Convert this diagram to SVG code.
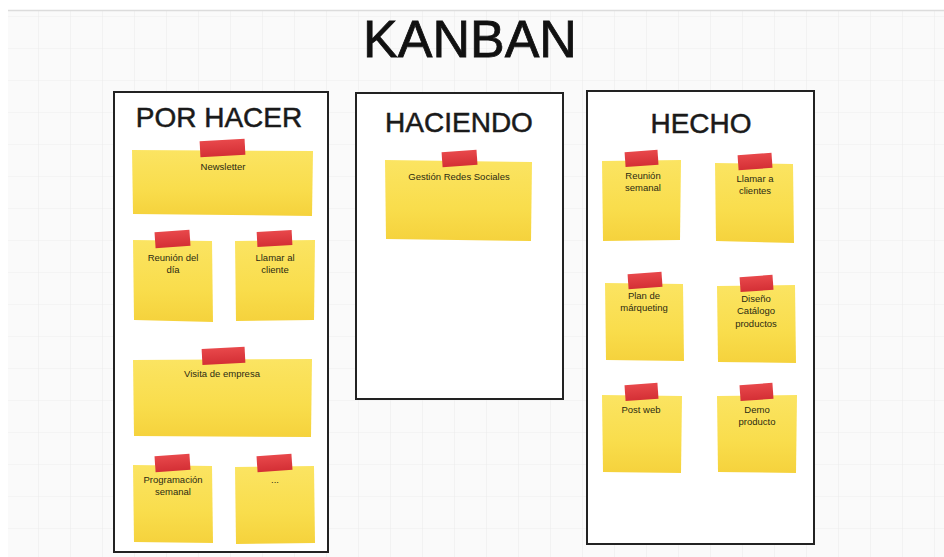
<svg xmlns="http://www.w3.org/2000/svg" width="944" height="557" viewBox="0 0 944 557">
<defs>
<pattern id="grid" x="6" y="16" width="32" height="32" patternUnits="userSpaceOnUse">
<path d="M0 0H32M0 0V32" fill="none" stroke="#ededed" stroke-width="1.2"/>
</pattern>
<linearGradient id="note" x1="0" y1="0" x2="0" y2="1">
<stop offset="0" stop-color="#fbe462"/>
<stop offset="0.6" stop-color="#f9dd4c"/>
<stop offset="1" stop-color="#f5d23c"/>
</linearGradient>
<linearGradient id="tape" x1="0" y1="0" x2="0" y2="1">
<stop offset="0" stop-color="#e8484b"/>
<stop offset="1" stop-color="#d42f35"/>
</linearGradient>
</defs>
<style>
.col{fill:#fff;stroke:#222;stroke-width:2}
.note{fill:url(#note)}
.tape{fill:url(#tape)}
.ct{font-family:"Liberation Sans",Arial,sans-serif;font-size:28px;fill:#1a1a1a;stroke:#1a1a1a;stroke-width:0.5;text-anchor:middle}
.nt{font-family:"Liberation Sans",Arial,sans-serif;font-size:9.5px;fill:#2b2a12;text-anchor:middle}
</style>
<rect width="944" height="557" fill="#fff"/>
<rect x="8" y="10" width="936" height="547" fill="#fafafa"/>
<rect x="8" y="10" width="936" height="547" fill="url(#grid)"/>
<line x1="8" y1="10.5" x2="944" y2="10.5" stroke="#dcdcdc" stroke-width="1.5"/>
<text x="470" y="57" font-family="Liberation Sans,Arial,sans-serif" font-size="52" fill="#111" stroke="#111" stroke-width="0.8" text-anchor="middle">KANBAN</text>

<g id="col-por-hacer">
<rect class="col" x="114" y="92" width="214" height="460"/>
<text class="ct" x="219" y="127">POR HACER</text>
</g>
<g id="col-haciendo">
<rect class="col" x="356" y="93" width="207" height="306"/>
<text class="ct" x="459" y="132">HACIENDO</text>
</g>
<g id="col-hecho">
<rect class="col" x="587" y="91" width="227" height="453"/>
<text class="ct" x="701" y="133">HECHO</text>
</g>

<g id="n-newsletter">
<path class="note" d="M132 150L313 151L312 216L133 214Z"/>
<rect class="tape" x="200" y="140" width="45" height="16" transform="rotate(-3 222 148)"/>
<text class="nt" x="223" y="170">Newsletter</text>
</g>
<g id="n-reunion-dia">
<path class="note" d="M133 240L212 241L213 322L134 320Z"/>
<rect class="tape" x="155" y="231" width="35" height="16" transform="rotate(-4 172 239)"/>
<text class="nt" x="173" y="261">Reunión del</text>
<text class="nt" x="173" y="273">día</text>
</g>
<g id="n-llamar-cliente">
<path class="note" d="M235 241L315 240L314 320L236 321Z"/>
<rect class="tape" x="257" y="231" width="35" height="15" transform="rotate(-3 274 238)"/>
<text class="nt" x="275" y="261">Llamar al</text>
<text class="nt" x="275" y="273">cliente</text>
</g>
<g id="n-visita">
<path class="note" d="M133 360L312 359L311 437L134 436Z"/>
<rect class="tape" x="202" y="348" width="43" height="16" transform="rotate(-3 223 356)"/>
<text class="nt" x="222" y="377">Visita de empresa</text>
</g>
<g id="n-programacion">
<path class="note" d="M133 465L212 466L213 543L134 542Z"/>
<rect class="tape" x="155" y="455" width="35" height="16" transform="rotate(-4 172 463)"/>
<text class="nt" x="173" y="483">Programación</text>
<text class="nt" x="173" y="495">semanal</text>
</g>
<g id="n-dots">
<path class="note" d="M235 467L314 466L315 543L236 544Z"/>
<rect class="tape" x="257" y="455" width="35" height="16" transform="rotate(-4 274 463)"/>
<text class="nt" x="275" y="483">...</text>
</g>

<g id="n-gestion">
<path class="note" d="M385 160L532 162L531 241L386 239Z"/>
<rect class="tape" x="442" y="151" width="35" height="15" transform="rotate(-4 459 158)"/>
<text class="nt" x="459" y="180">Gestión Redes Sociales</text>
</g>

<g id="n-reunion-semanal">
<path class="note" d="M602 161L681 160L680 240L603 241Z"/>
<rect class="tape" x="625" y="151" width="33" height="15" transform="rotate(-4 641 158)"/>
<text class="nt" x="643" y="179">Reunión</text>
<text class="nt" x="643" y="191">semanal</text>
</g>
<g id="n-llamar-clientes">
<path class="note" d="M715 163L793 164L794 243L716 241Z"/>
<rect class="tape" x="738" y="154" width="34" height="15" transform="rotate(-4 755 161)"/>
<text class="nt" x="755" y="182">Llamar a</text>
<text class="nt" x="755" y="194">clientes</text>
</g>
<g id="n-plan">
<path class="note" d="M605 283L683 284L684 361L606 360Z"/>
<rect class="tape" x="628" y="273" width="34" height="15" transform="rotate(-4 645 280)"/>
<text class="nt" x="644" y="299">Plan de</text>
<text class="nt" x="644" y="311">márqueting</text>
</g>
<g id="n-diseno">
<path class="note" d="M717 286L795 285L796 363L718 362Z"/>
<rect class="tape" x="740" y="276" width="33" height="15" transform="rotate(-4 756 283)"/>
<text class="nt" x="756" y="302">Diseño</text>
<text class="nt" x="756" y="314">Catálogo</text>
<text class="nt" x="756" y="327">productos</text>
</g>
<g id="n-post">
<path class="note" d="M602 395L682 396L681 473L603 472Z"/>
<rect class="tape" x="625" y="384" width="33" height="16" transform="rotate(-4 641 392)"/>
<text class="nt" x="641" y="413">Post web</text>
</g>
<g id="n-demo">
<path class="note" d="M717 396L797 395L796 473L718 472Z"/>
<rect class="tape" x="740" y="384" width="33" height="16" transform="rotate(-4 756 392)"/>
<text class="nt" x="757" y="413">Demo</text>
<text class="nt" x="757" y="425">producto</text>
</g>
<g id="connectors"/>
</svg>
